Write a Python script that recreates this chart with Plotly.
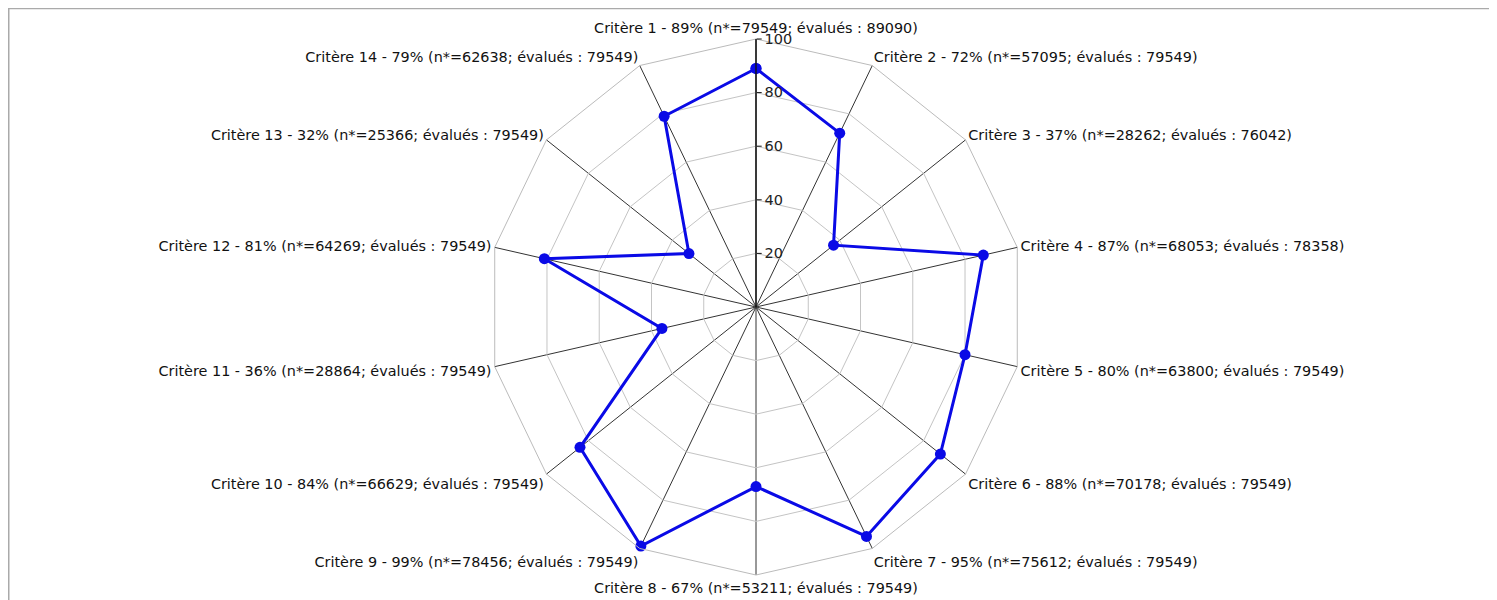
import plotly.graph_objects as go

criteria = [f"Critère {i}" for i in range(1, 15)]
pct = [89, 72, 37, 87, 80, 88, 95, 67, 99, 84, 36, 81, 32, 79]
n_star = [79549, 57095, 28262, 68053, 63800, 70178, 75612, 53211, 78456, 66629, 28864, 64269, 25366, 62638]
evalues = [89090, 79549, 76042, 78358, 79549, 79549, 79549, 79549, 79549, 79549, 79549, 79549, 79549, 79549]
radial_ticks = [20, 40, 60, 80, 100]

labels = [f"{c} - {p}% (n*={n}; évalués : {e})" for c, p, n, e in zip(criteria, pct, n_star, evalues)]

W, H = 1497, 600
ML, MR, MT, MB = 0, 1, 31, 33
pw, ph = W - ML - MR, H - MT - MB

fig = go.Figure()
fig.add_trace(go.Scatterpolar(
    r=pct + [pct[0]],
    theta=labels + [labels[0]],
    mode="lines+markers",
    line=dict(color="#0a0ae6", width=3),
    marker=dict(color="#0a0ae6", size=11),
    showlegend=False,
))

fig.update_layout(
    width=W, height=H,
    margin=dict(l=ML, r=MR, t=MT, b=MB),
    paper_bgcolor="white",
    plot_bgcolor="white",
    font=dict(family="DejaVu Sans", size=14.4, color="#111"),
    polar=dict(
        bgcolor="white",
        gridshape="linear",
        angularaxis=dict(
            direction="clockwise",
            rotation=90,
            showline=True,
            linecolor="#bbbbbb",
            linewidth=1,
            gridcolor="#333333",
            gridwidth=1.2,
            ticks="",
            tickfont=dict(size=14.4, color="#111"),
            categoryorder="array",
            categoryarray=labels,
        ),
        radialaxis=dict(
            range=[0, 100],
            tickvals=radial_ticks,
            angle=90,
            tickangle=90,
            side="clockwise",
            showline=True,
            linecolor="#111111",
            linewidth=1.4,
            gridcolor="#c4c4c4",
            gridwidth=1,
            ticks="outside",
            ticklen=5,
            tickcolor="#111",
            tickfont=dict(size=14.5, color="#222"),
        ),
    ),
    shapes=[dict(
        type="rect", xref="paper", yref="paper",
        x0=(0.5 - ML) / pw, x1=1.2,
        y0=-0.3, y1=1 + (MT - 0.25) / ph,
        line=dict(color="#aaaaaa", width=2),
        fillcolor="rgba(0,0,0,0)",
        layer="below",
    )],
)

fig.write_html("out.html")
